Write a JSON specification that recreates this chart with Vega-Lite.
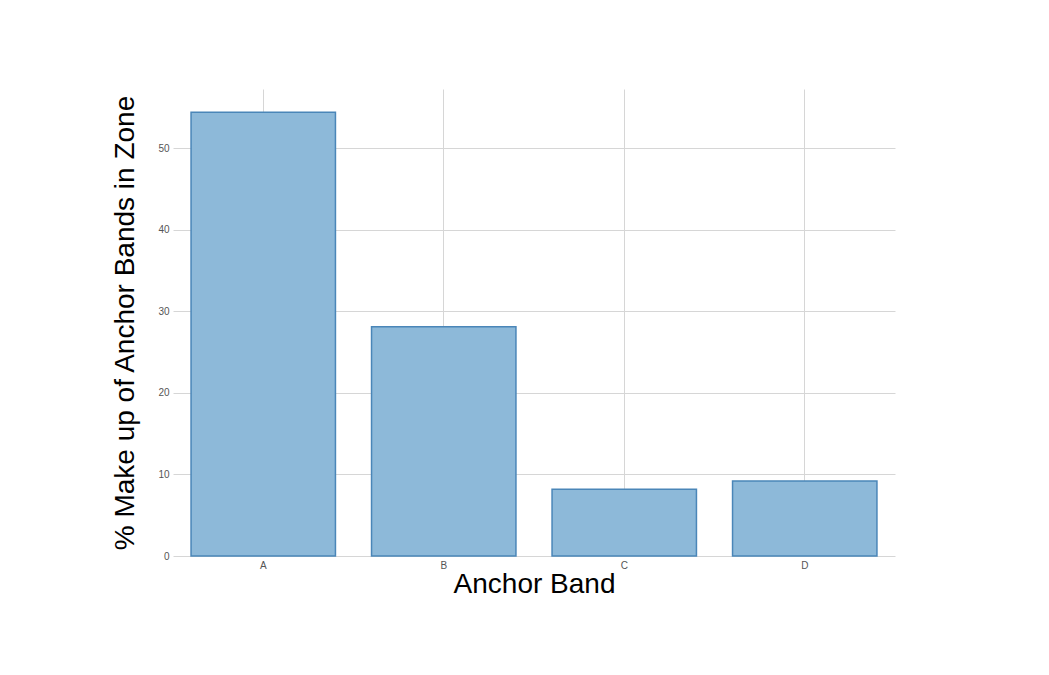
{
  "$schema": "https://vega.github.io/schema/vega-lite/v6.json",
  "autosize": "none",
  "width": 722,
  "height": 467,
  "padding": {"left": 173, "top": 89, "right": 154, "bottom": 119},
  "background": "white",
  "data": {"values": [
    {"band": "A", "pct": 54.46},
    {"band": "B", "pct": 28.13},
    {"band": "C", "pct": 8.2},
    {"band": "D", "pct": 9.2}
  ]},
  "config": {
    "view": {"stroke": null},
    "font": "Liberation Sans",
    "axis": {"gridColor": "#d6d6d6", "gridWidth": 1, "domain": false, "ticks": false, "labelColor": "#555555", "labelFontSize": 10, "titleColor": "#000000", "titleFontSize": 28, "titleFontWeight": "normal"}
  },
  "mark": {"type": "bar", "fill": "#8db9d9", "stroke": "#4a86b8", "strokeWidth": 1.5},
  "encoding": {
    "x": {"field": "band", "type": "nominal", "title": "Anchor Band",
          "scale": {"paddingInner": 0.2, "paddingOuter": 0.1},
          "axis": {"labelAngle": 0, "grid": true, "labelPadding": 4, "titlePadding": 0}},
    "y": {"field": "pct", "type": "quantitative", "title": "% Make up of Anchor Bands in Zone",
          "scale": {"domain": [0, 57.3], "nice": false},
          "axis": {"values": [0, 10, 20, 30, 40, 50], "labelPadding": 4, "titlePadding": 18}}
  }
}
